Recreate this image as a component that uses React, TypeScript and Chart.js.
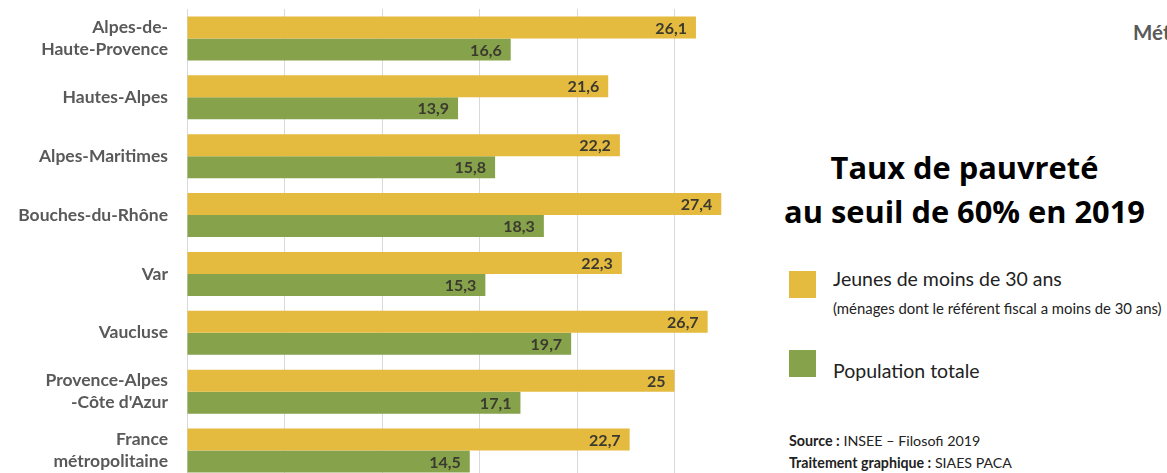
import React, { useEffect, useRef } from "react";
import { Chart, registerables } from "chart.js";

Chart.register(...registerables);

const categories: (string | string[])[] = [
  ["Alpes-de-", "Haute-Provence"],
  "Hautes-Alpes",
  "Alpes-Maritimes",
  "Bouches-du-Rhône",
  "Var",
  "Vaucluse",
  ["Provence-Alpes", "-Côte d'Azur"],
  ["France", "métropolitaine"],
];
const jeunes = [26.1, 21.6, 22.2, 27.4, 22.3, 26.7, 25, 22.7];
const population = [16.6, 13.9, 15.8, 18.3, 15.3, 19.7, 17.1, 14.5];
const xTicks = [0, 5, 10, 15, 20, 25];

const YELLOW = "#E4BA3F";
const GREEN = "#86A24A";
const FONT = "Lato";

const valueLabels = {
  id: "valueLabels",
  afterDatasetsDraw(chart: any) {
    const ctx = chart.ctx;
    ctx.save();
    ctx.font = `bold 16px ${FONT}`;
    ctx.fillStyle = "#3b3a30";
    ctx.textAlign = "right";
    ctx.textBaseline = "middle";
    chart.data.datasets.forEach((ds: any, i: number) => {
      chart.getDatasetMeta(i).data.forEach((bar: any, j: number) => {
        const v = ds.data[j];
        ctx.fillText(String(v).replace(".", ","), bar.x - 9, bar.y + 1);
      });
    });
    ctx.restore();
  },
};

function BarChart() {
  const ref = useRef<HTMLCanvasElement | null>(null);
  useEffect(() => {
    if (!ref.current) return;
    const chart = new Chart(ref.current, {
      type: "bar",
      data: {
        labels: categories,
        datasets: [
          {
            label: "Jeunes de moins de 30 ans",
            data: jeunes,
            backgroundColor: YELLOW,
            barPercentage: 1,
            categoryPercentage: 0.748,
          },
          {
            label: "Population totale",
            data: population,
            backgroundColor: GREEN,
            barPercentage: 1,
            categoryPercentage: 0.748,
          },
        ],
      },
      options: {
        indexAxis: "y",
        animation: false,
        responsive: false,
        maintainAspectRatio: false,
        layout: { padding: { top: 9, bottom: 0, left: 0, right: 7 } },
        plugins: {
          legend: { display: false },
          tooltip: { enabled: false },
          title: { display: false },
        },
        scales: {
          x: {
            min: 0,
            max: 28,
            position: "bottom",
            ticks: { display: false, stepSize: 5 },
            afterBuildTicks: (scale: any) => {
              scale.ticks = xTicks.map((v) => ({ value: v }));
            },
            afterFit: (scale: any) => {
              scale.height = 0;
              scale.paddingLeft = 0;
              scale.paddingRight = 0;
            },
            grid: { color: "#d9d9d9", lineWidth: 1, drawTicks: false },
            border: { display: false },
          },
          y: {
            grid: { display: false, drawTicks: false },
            border: { display: false },
            afterFit: (scale: any) => {
              scale.width = 187;
              scale.paddingTop = 0;
              scale.paddingBottom = 0;
            },
            ticks: {
              padding: 19,
              color: "#595959",
              font: { family: FONT, size: 17.5, weight: "bold", lineHeight: 1.26 },
            },
          },
        },
      },
      plugins: [valueLabels],
    });
    return () => chart.destroy();
  }, []);
  return <canvas ref={ref} width={740} height={480} style={{ display: "block" }} />;
}

export default function App() {
  const txt: React.CSSProperties = { position: "absolute", whiteSpace: "nowrap", fontFamily: FONT };
  return (
    <div
      style={{
        position: "fixed",
        left: 0,
        top: 0,
        width: 1167,
        height: 473,
        overflow: "hidden",
        background: "#fff",
      }}
    >
      <div style={{ position: "absolute", left: 0, top: 0 }}>
        <BarChart />
      </div>
      <div style={{ ...txt, left: 1133, top: 20, fontSize: 20.5, fontWeight: 700, color: "#595959" }}>
        Métropole
      </div>
      <div
        style={{
          ...txt,
          left: 762,
          width: 405,
          top: 145,
          textAlign: "center",
          fontSize: 30.8,
          fontWeight: 700,
          color: "#000",
          lineHeight: "44px",
          fontFamily: "Open Sans",
        }}
      >
        Taux de pauvreté
        <br />
        au seuil de 60% en 2019
      </div>
      <div style={{ position: "absolute", left: 789, top: 271, width: 27, height: 27, background: YELLOW }} />
      <div style={{ ...txt, left: 833, top: 267, fontSize: 19.5, color: "#222" }}>Jeunes de moins de 30 ans</div>
      <div style={{ ...txt, left: 833, top: 299, fontSize: 14.9, color: "#222" }}>
        (ménages dont le référent fiscal a moins de 30 ans)
      </div>
      <div style={{ position: "absolute", left: 789, top: 350, width: 27, height: 27, background: GREEN }} />
      <div style={{ ...txt, left: 833, top: 359, fontSize: 19.5, color: "#222" }}>Population totale</div>
      <div style={{ ...txt, left: 789, top: 432, fontSize: 14.3, color: "#222" }}>
        <b>Source :</b> INSEE – Filosofi 2019
      </div>
      <div style={{ ...txt, left: 789, top: 454, fontSize: 14.2, color: "#222" }}>
        <b>Traitement graphique :</b> SIAES PACA
      </div>
    </div>
  );
}
